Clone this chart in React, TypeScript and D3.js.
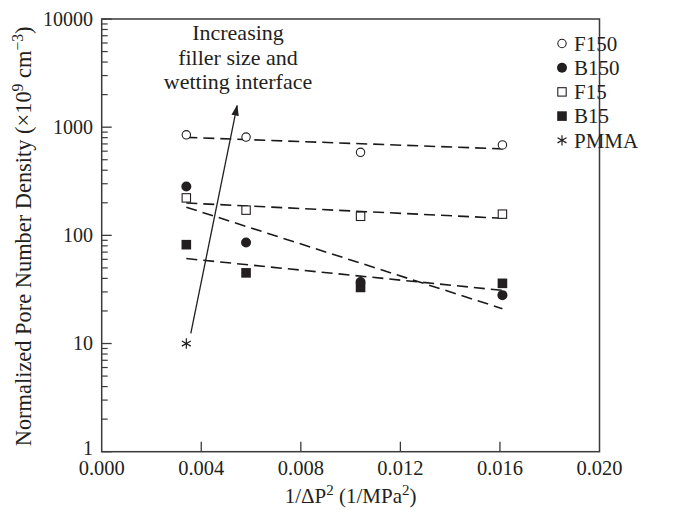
import React, { useEffect, useRef } from "react";
import * as d3 from "d3";

// 1/ΔP² values where the samples were measured
const xValues = [0.0034, 0.0058, 0.0104, 0.0161];

// pore number density, per series
const f150 = [850, 810, 585, 685];
const b150 = [283, 86, 37, 28];
const f15 = [222, 171, 150, 157];
const b15 = [82, 45, 33, 36];
const pmma = [{ x: 0.0034, y: 10 }];

// dashed fit lines, value at first and last x
const fitX = [0.0034, 0.0161];
const f150Fit = [805, 630];
const f15Fit = [199, 144];
const b150Fit = [182, 21];
const b15Fit = [61, 31];

// annotation arrow (tail, head) in data units
const arrowPts = [
  { x: 0.00358, y: 12.4 },
  { x: 0.00544, y: 1580 },
];
const noteLines = ["Increasing", "filler size and", "wetting interface"];

const xTicks = [0, 0.004, 0.008, 0.012, 0.016, 0.02];
const yTicks = [1, 10, 100, 1000, 10000];
const legendNames = ["F150", "B150", "F15", "B15", "PMMA"];

const W = 678;
const H = 510;
const ink = "#231f20";
const font = "'Liberation Serif', 'DejaVu Serif', serif";

const PoreChart = () => {
  const ref = useRef<SVGSVGElement | null>(null);

  useEffect(() => {
    const svg = d3.select(ref.current);
    svg.selectAll("*").remove();

    const x = d3.scaleLinear().domain([0, 0.02]).range([101.7, 599.5]);
    const y = d3.scaleLog().domain([1, 10000]).range([451.7, 19]);
    const [x0, x1] = x.range();
    const [yb, yt] = y.range();

    const defs = svg.append("defs");
    defs
      .append("marker")
      .attr("id", "head")
      .attr("viewBox", "0 0 10 10")
      .attr("refX", 9)
      .attr("refY", 5)
      .attr("markerWidth", 11)
      .attr("markerHeight", 11)
      .attr("markerUnits", "userSpaceOnUse")
      .attr("orient", "auto")
      .append("path")
      .attr("d", "M0,1.6 L10,5 L0,8.4 Z")
      .attr("fill", ink);

    // frame
    svg
      .append("rect")
      .attr("x", x0)
      .attr("y", yt)
      .attr("width", x1 - x0)
      .attr("height", yb - yt)
      .attr("fill", "none")
      .attr("stroke", "#3a3a3a")
      .attr("stroke-width", 1.5);

    // x ticks
    const gx = svg.append("g");
    xTicks.slice(1, -1).forEach((t) => {
      gx.append("line")
        .attr("x1", x(t))
        .attr("x2", x(t))
        .attr("y1", yb)
        .attr("y2", yb - 10)
        .attr("stroke", "#3a3a3a")
        .attr("stroke-width", 1.3);
    });
    xTicks.forEach((t) => {
      gx.append("text")
        .attr("x", x(t))
        .attr("y", 475)
        .attr("text-anchor", "middle")
        .attr("font-size", 20.5)
        .attr("fill", ink)
        .text(d3.format(".3f")(t));
    });

    // y ticks, with minor ticks
    const gy = svg.append("g");
    yTicks.slice(0, -1).forEach((d) => {
      for (let k = 2; k <= 9; k++) {
        gy.append("line")
          .attr("x1", x0)
          .attr("x2", x0 + 6)
          .attr("y1", y(d * k))
          .attr("y2", y(d * k))
          .attr("stroke", "#3a3a3a")
          .attr("stroke-width", 1.2);
      }
    });
    yTicks.forEach((t) => {
      gy.append("line")
        .attr("x1", x0)
        .attr("x2", x0 + 10)
        .attr("y1", y(t))
        .attr("y2", y(t))
        .attr("stroke", "#3a3a3a")
        .attr("stroke-width", 1.3);
      gy.append("text")
        .attr("x", 93)
        .attr("y", y(t) - (t === 1 ? 4 : 0))
        .attr("dy", "0.34em")
        .attr("text-anchor", "end")
        .attr("font-size", 20)
        .attr("fill", ink)
        .text(String(t));
    });

    // axis titles
    const xt = svg
      .append("text")
      .attr("x", (x0 + x1) / 2)
      .attr("y", 503)
      .attr("text-anchor", "middle")
      .attr("font-size", 21)
      .attr("fill", ink);
    xt.append("tspan").text("1/ΔP");
    xt.append("tspan").attr("font-size", 15).attr("dy", -8).text("2");
    xt.append("tspan").attr("dy", 8).text(" (1/MPa");
    xt.append("tspan").attr("font-size", 15).attr("dy", -8).text("2");
    xt.append("tspan").attr("dy", 8).text(")");

    const yTitle = svg
      .append("text")
      .attr("transform", `translate(31,${(yt + yb) / 2 + 1}) rotate(-90)`)
      .attr("text-anchor", "middle")
      .attr("font-size", 20)
      .attr("fill", ink);
    yTitle.append("tspan").text("Normalized Pore Number Density (×10");
    yTitle.append("tspan").attr("class", "sup").attr("dy", -8).text("9");
    yTitle.append("tspan").attr("dy", 8).text(" cm");
    yTitle.append("tspan").attr("class", "sup").attr("dy", -8).text("−3");
    yTitle.append("tspan").attr("dy", 8).text(")");
    yTitle.selectAll(".sup").attr("font-size", 14);
    // stretch the title to the reference length by font size
    const node = yTitle.node() as SVGTextElement;
    const len = node.getComputedTextLength ? node.getComputedTextLength() : 0;
    if (len > 0) {
      const fs = (20 * 420) / len;
      yTitle.attr("font-size", fs);
      yTitle.selectAll(".sup").attr("font-size", fs * 0.7);
    }

    // dashed fits
    const fitLine = d3
      .line<number>()
      .x((_, i) => x(fitX[i]))
      .y((d) => y(d));
    [f150Fit, f15Fit, b150Fit, b15Fit].forEach((f) => {
      svg
        .append("path")
        .attr("d", fitLine(f))
        .attr("fill", "none")
        .attr("stroke", "#1a1a1a")
        .attr("stroke-width", 1.6)
        .attr("stroke-dasharray", "11,6");
    });

    // arrow + note
    svg
      .append("line")
      .attr("x1", x(arrowPts[0].x))
      .attr("y1", y(arrowPts[0].y))
      .attr("x2", x(arrowPts[1].x))
      .attr("y2", y(arrowPts[1].y))
      .attr("stroke", ink)
      .attr("stroke-width", 1.3)
      .attr("marker-end", "url(#head)");
    noteLines.forEach((s, i) => {
      svg
        .append("text")
        .attr("x", 238)
        .attr("y", 40 + i * 24.5)
        .attr("text-anchor", "middle")
        .attr("font-size", 22)
        .attr("fill", ink)
        .text(s);
    });

    // markers
    const drawMarker = (g: any, kind: string, cx: number, cy: number) => {
      if (kind === "F150") {
        g.append("circle")
          .attr("cx", cx)
          .attr("cy", cy)
          .attr("r", 4.2)
          .attr("fill", "#fff")
          .attr("stroke", ink)
          .attr("stroke-width", 1.1);
      } else if (kind === "B150") {
        g.append("circle")
          .attr("cx", cx)
          .attr("cy", cy)
          .attr("r", 5)
          .attr("fill", ink);
      } else if (kind === "F15") {
        g.append("rect")
          .attr("x", cx - 4.2)
          .attr("y", cy - 4.2)
          .attr("width", 8.4)
          .attr("height", 8.4)
          .attr("fill", "#fff")
          .attr("stroke", ink)
          .attr("stroke-width", 1.1);
      } else if (kind === "B15") {
        g.append("rect")
          .attr("x", cx - 4.8)
          .attr("y", cy - 4.8)
          .attr("width", 9.6)
          .attr("height", 9.6)
          .attr("fill", ink);
      } else {
        g.append("path")
          .attr("transform", `translate(${cx},${cy})`)
          .attr("d", d3.symbol(d3.symbolAsterisk, 75)())
          .attr("fill", "none")
          .attr("stroke", ink)
          .attr("stroke-width", 1.2);
      }
    };

    const pts = svg.append("g");
    const seriesList: [string, number[]][] = [
      ["F150", f150],
      ["F15", f15],
      ["B15", b15],
      ["B150", b150],
    ];
    seriesList.forEach(([name, vals]) => {
      vals.forEach((v, i) => drawMarker(pts, name, x(xValues[i]), y(v)));
    });
    pmma.forEach((p) => drawMarker(pts, "PMMA", x(p.x), y(p.y)));

    // legend
    const lg = svg.append("g");
    legendNames.forEach((name, i) => {
      const cy = 43.5 + i * 24.2;
      drawMarker(lg, name, 562, cy);
      lg.append("text")
        .attr("x", 574)
        .attr("y", cy)
        .attr("dy", "0.35em")
        .attr("font-size", 21)
        .attr("fill", ink)
        .text(name);
    });
  }, []);

  return (
    <svg
      ref={ref}
      width={W}
      height={H}
      style={{ position: "absolute", left: 0, top: 0, background: "#fff", fontFamily: font }}
    />
  );
};

export default function App() {
  return <PoreChart />;
}
